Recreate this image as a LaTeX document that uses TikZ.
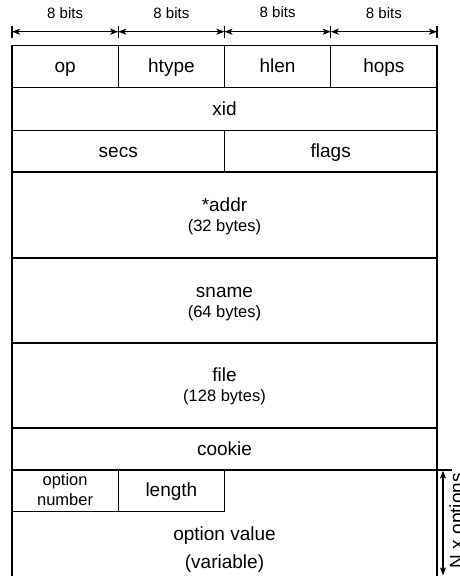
\documentclass[tikz,border=0pt]{standalone}
\usepackage{fontspec}
\setmainfont{Liberation Sans}
\usetikzlibrary{arrows.meta}

\tikzset{
	field/.style={font=\fontsize{19}{22}\selectfont, anchor=base, inner sep=0pt},
	note/.style={font=\fontsize{16.5}{19}\selectfont, anchor=base, inner sep=0pt},
	bits/.style={font=\fontsize{15}{18}\selectfont, anchor=base, inner sep=0pt},
	wall/.style={line width=1.2pt},
	widtharrow/.style={line width=1.2pt,
		{Stealth[length=8pt,width=6pt,inset=2pt]}-{Stealth[length=8pt,width=6pt,inset=2pt]}},
}

\begin{document}
\begin{tikzpicture}[x=1pt,y=-1pt]
	\clip (0,0) rectangle (459,576);
	
	% byte widths over the header
	\coordinate (t0) at (12,31.7);
	\coordinate (t1) at (118.25,31.7);
	\coordinate (t2) at (224.5,31.7);
	\coordinate (t3) at (330.75,31.7);
	\coordinate (t4) at (437,31.7);
	
	\node[bits] (b1) at (65.1,18.3) {8 bits};
	\node[bits] (b2) at (171.4,18.3) {8 bits};
	\node[bits] (b3) at (277.6,17.3) {8 bits};
	\node[bits] (b4) at (383.9,18.3) {8 bits};
	
	\draw[widtharrow] (t0) -- (t1);
	\draw[widtharrow] (t1) -- (t2);
	\draw[widtharrow] (t2) -- (t3);
	\draw[widtharrow] (t3) -- (t4);
	\foreach \t in {t0,t1,t2,t3,t4}
		\draw[wall] (\t) ++(0,-6) -- ++(0,12);
	
	% packet fields
	\draw[wall] (12,580) -- (12,45.5) -- (437,45.5) -- (437,580);
	\foreach \y in {87.5,130.5,172,258,343,428,470}
		\draw[wall] (12,\y) -- (437,\y);
	\foreach \x in {118.25,224.5,330.75}
		\draw[wall] (\x,45.5) -- (\x,87.5);
	\draw[wall] (224.5,130.5) -- (224.5,172);
	\draw[wall] (12,511.5) -- (224.5,511.5) -- (224.5,470);
	\draw[wall] (118.25,470) -- (118.25,511.5);
	
	\node[field] (op) at (65.1,72.5) {op};
	\node[field] (htype) at (171.4,72.5) {htype};
	\node[field] (hlen) at (277.6,72.5) {hlen};
	\node[field] (hops) at (383.9,72.5) {hops};
	
	\node[field] (xid) at (224.5,115) {xid};
	\node[field] (secs) at (118.25,157.7) {secs};
	\node[field] (flags) at (330.75,157.7) {flags};
	
	\node[field] (addr) at (224.5,211.7) {*addr};
	\node[note] (addr') at (224.5,231.7) {(32 bytes)};
	\node[field] (sname) at (224.5,297) {sname};
	\node[note] (sname') at (224.5,317) {(64 bytes)};
	\node[field] (file) at (224.5,381) {file};
	\node[note] (file') at (224.5,401) {(128 bytes)};
	\node[field] (cookie) at (224.5,455) {cookie};
	
	\node[note] (optnum) at (65.1,485) {option};
	\node[note] (optnum') at (65.1,505) {number};
	\node[field] (length) at (171.4,496.7) {length};
	\node[field] (optval) at (224.5,540) {option value};
	\node[field] (optval') at (224.5,568) {(variable)};
	
	% repeated options
	\coordinate (n0) at (443,470.6);
	\coordinate (n1) at (443,575.4);
	\draw[wall] (n0) ++(-9,-0.6) -- ++(18,0);
	\draw[widtharrow] (n0) -- (n1);
	\node[field, rotate=90, anchor=base east] (nopt) at (463,473) {N x options};
\end{tikzpicture}
\end{document}
